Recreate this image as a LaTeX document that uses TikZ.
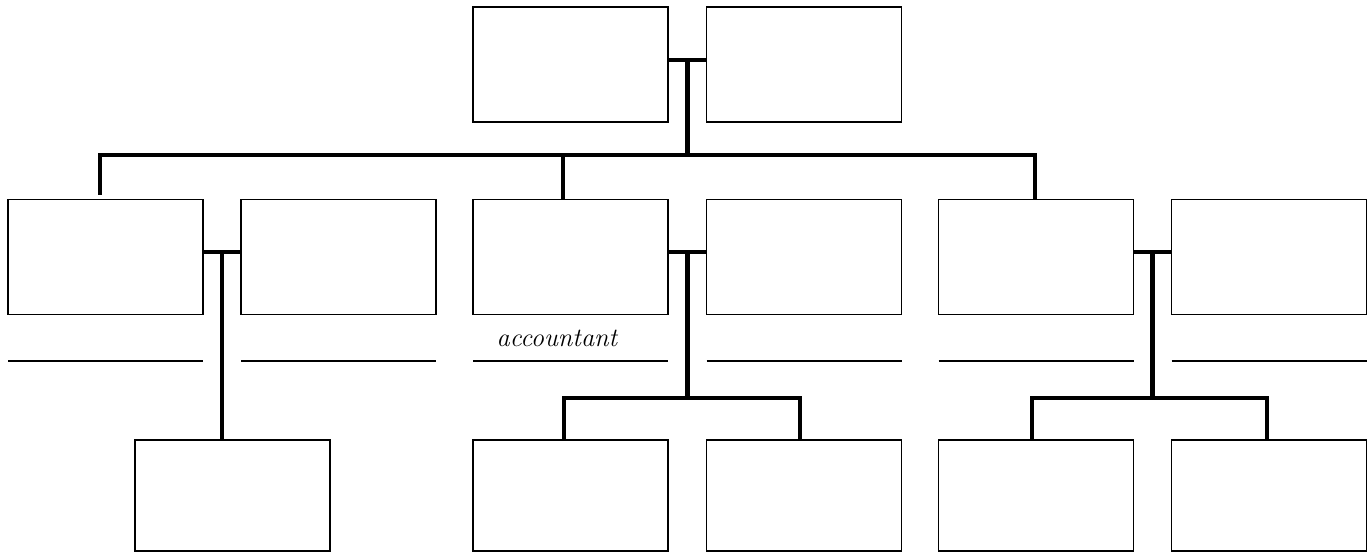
\documentclass[tikz,border=0pt]{standalone}
\usetikzlibrary{positioning, calc}

\begin{document}
\begin{tikzpicture}[
            bx/.style={draw, line width=0.9pt, minimum width=3.9cm, minimum height=2.3cm, inner sep=0pt, outer sep=0pt},
            lk/.style={line width=2.8pt},
            bl/.style={line width=0.6pt}]
            \useasboundingbox (0,0) rectangle (27.38,-11.06);
            % top pair
            \node[bx] (t1) at (11.41,-1.29) {};
            \node[bx] (t2) at (16.08,-1.29) {};
            % middle row
            \node[bx] (m1) at (2.11,-5.14) {};
            \node[bx] (m2) at (6.77,-5.14) {};
            \node[bx] (m3) at (11.41,-5.14) {};
            \node[bx] (m4) at (16.08,-5.14) {};
            \node[bx] (m5) at (20.72,-5.14) {};
            \node[bx] (m6) at (25.38,-5.14) {};
            % bottom row
            \node[bx, minimum height=2.22cm] (b1) at (4.65,-9.91) {};
            \node[bx, minimum height=2.22cm] (b2) at (11.41,-9.91) {};
            \node[bx, minimum height=2.22cm] (b3) at (16.08,-9.91) {};
            \node[bx, minimum height=2.22cm] (b4) at (20.72,-9.91) {};
            \node[bx, minimum height=2.22cm] (b5) at (25.38,-9.91) {};
            % blanks under the middle row
            \foreach \n in {m1,m2,m3,m4,m5,m6}
                \draw[bl] (\n.west |- 0,-7.22) -- (\n.east |- 0,-7.22);
            \node[anchor=base, font=\fontsize{15}{17}\selectfont\itshape] (acc) at (11.14,-6.94) {accountant};
            % junctions
            \coordinate (jt) at ($(t1.east)!0.5!(t2.west)+(0,0.09)$);
            \coordinate (ja) at ($(m1.east)!0.5!(m2.west)+(0,0.1)$);
            \coordinate (jb) at ($(m3.east)!0.5!(m4.west)+(0,0.1)$);
            \coordinate (jc) at ($(m5.east)!0.5!(m6.west)+(0,0.1)$);
            \coordinate (bus) at (0,-3.1);
            \coordinate (sub) at (0,-7.96);
            % top connectors
            \draw[lk] (t1.east |- jt) -- (t2.west |- jt);
            \draw[lk] (jt) -- (jt |- bus);
            \draw[lk] (2.0,-3.9) -- (2.0,-3.1) -- (20.7,-3.1) -- (20.7,0 |- m5.north);
            \draw[lk] (11.26,-3.1) -- (11.26,0 |- m3.north);
            % left group
            \draw[lk] (m1.east |- ja) -- (m2.west |- ja);
            \draw[lk] (ja) -- (ja |- b1.north);
            % middle group
            \draw[lk] (m3.east |- jb) -- (m4.west |- jb);
            \draw[lk] (jb) -- (jb |- sub);
            \draw[lk] (11.28,0 |- b2.north) -- (11.28,-7.96) -- (16.0,-7.96) -- (16.0,0 |- b3.north);
            % right group
            \draw[lk] (m5.east |- jc) -- (m6.west |- jc);
            \draw[lk] (jc) -- (jc |- sub);
            \draw[lk] (20.64,0 |- b4.north) -- (20.64,-7.96) -- (25.34,-7.96) -- (25.34,0 |- b5.north);
        \end{tikzpicture}
\end{document}
